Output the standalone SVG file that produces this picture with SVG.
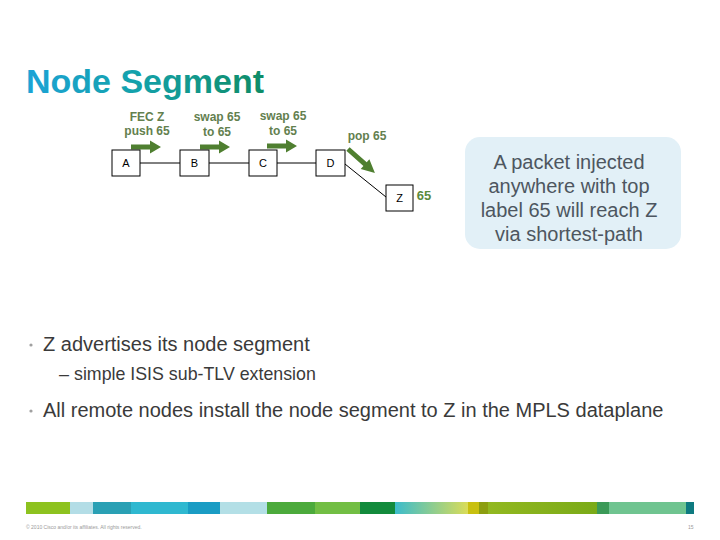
<svg xmlns="http://www.w3.org/2000/svg" width="720" height="540" viewBox="0 0 720 540">
<style>
  .title { font-family: "Liberation Sans", Arial, sans-serif; font-size: 34px; font-weight: bold; }
  .node rect { fill: #ffffff; stroke: #000000; stroke-width: 1; }
  .node text { font-family: "Liberation Sans", Arial, sans-serif; font-size: 11px; fill: #000000; text-anchor: middle; }
  .lbl { font-family: "Liberation Sans", Arial, sans-serif; font-size: 12px; font-weight: bold; fill: #63804e; text-anchor: middle; }
  .link { stroke: #000000; stroke-width: 1; fill: none; }
  .arrow { fill: #4f7f30; }
  .callout { font-family: "Liberation Sans", Arial, sans-serif; font-size: 20px; fill: #4d5660; text-anchor: middle; }
  .body { font-family: "Liberation Sans", Arial, sans-serif; fill: #3a3a3a; }
  .foot { font-family: "Liberation Sans", Arial, sans-serif; font-size: 5px; fill: #9a9a9a; }
</style>
<defs>
  <linearGradient id="tg" x1="26" y1="0" x2="265" y2="0" gradientUnits="userSpaceOnUse">
    <stop offset="0" stop-color="#1ca3d6"/>
    <stop offset="0.45" stop-color="#14a2ac"/>
    <stop offset="1" stop-color="#0e8c66"/>
  </linearGradient>
  <linearGradient id="bg1" x1="0" y1="0" x2="1" y2="0">
    <stop offset="0" stop-color="#3cbccc"/>
    <stop offset="1" stop-color="#dadc58"/>
  </linearGradient>
  <linearGradient id="bg2" x1="0" y1="0" x2="1" y2="0">
    <stop offset="0" stop-color="#92b820"/>
    <stop offset="1" stop-color="#7aaa18"/>
  </linearGradient>
  <path id="arr" d="M0,-2.5 L19,-2.5 L19,-6.5 L30,0 L19,6.5 L19,2.5 L0,2.5 Z"/>
</defs>

<rect width="720" height="540" fill="#ffffff"/>

<text class="title" x="26" y="93" fill="url(#tg)">Node Segment</text>

<g id="connectors">
  <line class="link" x1="140" y1="163" x2="180" y2="163"/>
  <line class="link" x1="209" y1="163" x2="249" y2="163"/>
  <line class="link" x1="277" y1="163" x2="316" y2="163"/>
  <line class="link" x1="345" y1="164" x2="386" y2="197"/>
</g>

<g id="arrows" class="arrow">
  <use href="#arr" transform="translate(131,147)"/>
  <use href="#arr" transform="translate(200,147)"/>
  <use href="#arr" transform="translate(267,146)"/>
  <use href="#arr" transform="translate(348,149) rotate(41.6) scale(1.2,1)"/>
</g>

<g id="labels">
  <text class="lbl" x="147" y="121">FEC Z</text>
  <text class="lbl" x="147" y="135">push 65</text>
  <text class="lbl" x="217" y="121">swap 65</text>
  <text class="lbl" x="217" y="136">to 65</text>
  <text class="lbl" x="283" y="120">swap 65</text>
  <text class="lbl" x="283" y="135">to 65</text>
  <text class="lbl" x="367" y="140">pop 65</text>
  <text class="lbl" x="424" y="200" style="font-size:13px;fill:#5b8a3c">65</text>
</g>

<g id="node-A" class="node"><rect x="112" y="150" width="28" height="26"/><text x="126" y="167">A</text></g>
<g id="node-B" class="node"><rect x="180" y="150" width="29" height="26"/><text x="194.5" y="167">B</text></g>
<g id="node-C" class="node"><rect x="249" y="150" width="28" height="26"/><text x="263" y="167">C</text></g>
<g id="node-D" class="node"><rect x="316" y="150" width="29" height="26"/><text x="330.5" y="167">D</text></g>
<g id="node-Z" class="node"><rect x="386" y="185" width="27" height="26"/><text x="399.5" y="202">Z</text></g>

<g id="callout">
  <rect x="465" y="137" width="216" height="112" rx="15" ry="15" fill="#e2f0f7"/>
  <text class="callout" x="569" y="169">A packet injected</text>
  <text class="callout" x="569" y="193">anywhere with top</text>
  <text class="callout" x="569" y="217">label 65 will reach Z</text>
  <text class="callout" x="569" y="241">via shortest-path</text>
</g>

<g id="bullets">
  <circle cx="31" cy="345" r="1.6" fill="#a0a0a0"/>
  <text class="body" x="43" y="351" font-size="20">Z advertises its node segment</text>
  <text class="body" x="59" y="380" font-size="18" fill="#6a9a3c">–</text>
  <text class="body" x="74" y="380" font-size="17.8">simple ISIS sub-TLV extension</text>
  <circle cx="31" cy="411" r="1.6" fill="#a0a0a0"/>
  <text class="body" x="43" y="417" font-size="20">All remote nodes install the node segment to Z in the MPLS dataplane</text>
</g>

<g id="footer-bar">
  <rect x="26" y="502" width="44" height="12" fill="#8dc21f"/>
  <rect x="70" y="502" width="23" height="12" fill="#b3dde6"/>
  <rect x="93" y="502" width="38" height="12" fill="#2aa0b4"/>
  <rect x="131" y="502" width="57" height="12" fill="#2fb8d0"/>
  <rect x="188" y="502" width="32" height="12" fill="#1a9cc4"/>
  <rect x="220" y="502" width="47" height="12" fill="#b3dfe6"/>
  <rect x="267" y="502" width="48" height="12" fill="#4caa3c"/>
  <rect x="315" y="502" width="45" height="12" fill="#72be44"/>
  <rect x="360" y="502" width="35" height="12" fill="#128a3c"/>
  <rect x="395" y="502" width="73" height="12" fill="url(#bg1)"/>
  <rect x="468" y="502" width="11" height="12" fill="#c8c010"/>
  <rect x="479" y="502" width="9" height="12" fill="#8c9e10"/>
  <rect x="488" y="502" width="109" height="12" fill="url(#bg2)"/>
  <rect x="597" y="502" width="12" height="12" fill="#3b9a58"/>
  <rect x="609" y="502" width="77" height="12" fill="#6fc490"/>
  <rect x="686" y="502" width="8" height="12" fill="#0e7a80"/>
</g>

<text class="foot" x="26" y="529">© 2010 Cisco and/or its affiliates. All rights reserved.</text>
<text class="foot" x="688" y="529">15</text>
</svg>
